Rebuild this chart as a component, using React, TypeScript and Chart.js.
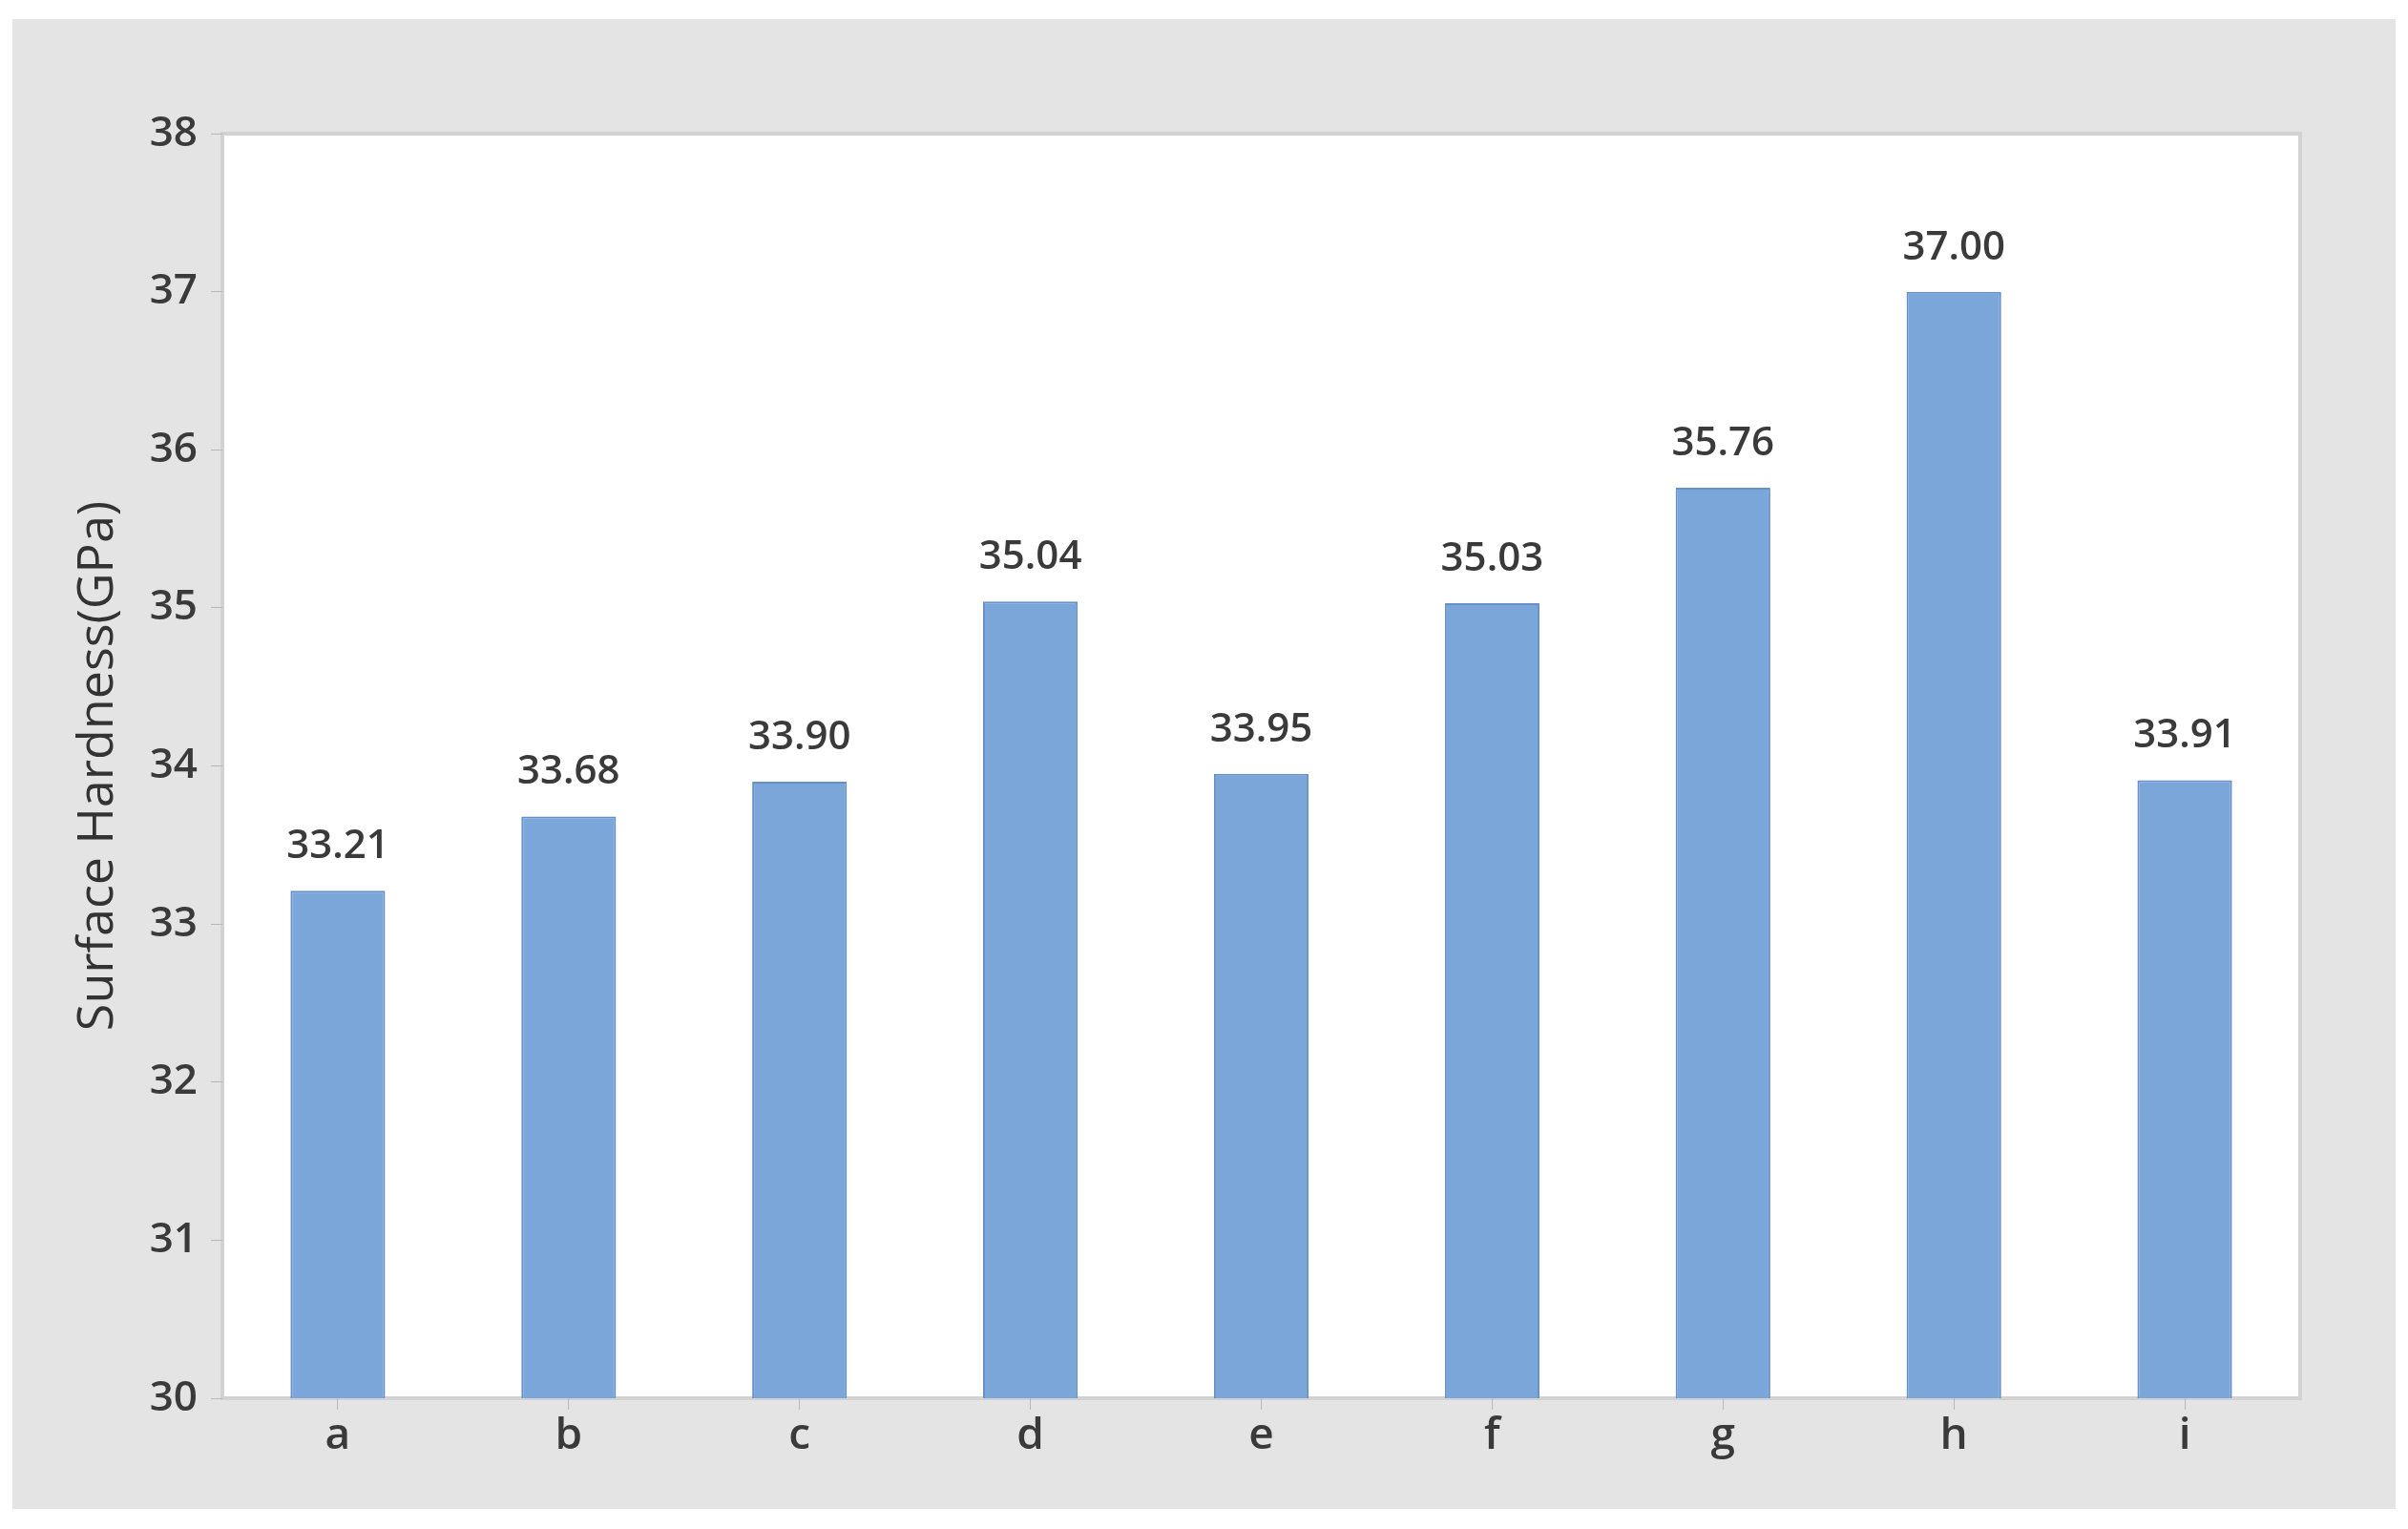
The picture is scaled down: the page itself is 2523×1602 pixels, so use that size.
import React, { useEffect, useRef } from "react";
import { Chart, registerables } from "chart.js";

Chart.register(...registerables);

const categories = ["a", "b", "c", "d", "e", "f", "g", "h", "i"];
const hardness = [33.21, 33.68, 33.9, 35.04, 33.95, 35.03, 35.76, 37.0, 33.91];
const yTitle = "Surface Hardness(GPa)";
const yMin = 30;
const yMax = 38;

const W = 2523;
const H = 1602;

const bgPlugin = {
  id: "bgPlugin",
  beforeDraw(chart: any) {
    const { ctx, chartArea } = chart;
    ctx.save();
    ctx.fillStyle = "#ffffff";
    ctx.fillRect(0, 0, W, H);
    ctx.fillStyle = "#e4e4e4";
    ctx.fillRect(13, 20, 2510 - 13, 1581 - 20);
    ctx.fillStyle = "#ffffff";
    ctx.fillRect(chartArea.left, chartArea.top, chartArea.right - chartArea.left, chartArea.bottom - chartArea.top);
    ctx.strokeStyle = "#d2d2d2";
    ctx.lineWidth = 4;
    ctx.strokeRect(chartArea.left, chartArea.top, chartArea.right - chartArea.left, chartArea.bottom - chartArea.top);
    ctx.restore();
  },
};

const labelPlugin = {
  id: "labelPlugin",
  afterDatasetsDraw(chart: any) {
    const { ctx } = chart;
    const meta = chart.getDatasetMeta(0);
    ctx.save();
    ctx.font = "600 42px 'Open Sans'";
    ctx.fillStyle = "#3a3a3a";
    ctx.textAlign = "center";
    ctx.textBaseline = "middle";
    meta.data.forEach((el: any, i: number) => {
      const v = chart.data.datasets[0].data[i] as number;
      ctx.fillText(v.toFixed(2), el.x, el.y - 46);
    });
    ctx.restore();
  },
};

export default function App() {
  const ref = useRef<HTMLCanvasElement | null>(null);
  useEffect(() => {
    if (!ref.current) return;
    const chart = new Chart(ref.current, {
      type: "bar",
      data: {
        labels: categories,
        datasets: [
          {
            data: hardness,
            backgroundColor: "#7ba6d9",
            borderColor: "#6690c6",
            borderWidth: 2,
            barPercentage: 0.41,
            categoryPercentage: 1,
          },
        ],
      },
      plugins: [bgPlugin, labelPlugin],
      options: {
        animation: false,
        responsive: false,
        devicePixelRatio: 1,
        layout: { padding: { left: 0, top: 140, right: 113, bottom: 37 } },
        plugins: { legend: { display: false }, tooltip: { enabled: false } },
        scales: {
          x: {
            grid: { display: true, drawOnChartArea: false, drawTicks: true, tickLength: 12, color: "#b8b8b8", offset: false },
            border: { display: false },
            ticks: { font: { family: "Open Sans", size: 46, weight: "600" }, color: "#3a3a3a", padding: 0 },
            afterFit: (s: any) => {
              s.height = 100;
            },
          },
          y: {
            min: yMin,
            max: yMax,
            grid: { display: true, drawOnChartArea: false, drawTicks: true, tickLength: 12, color: "#b8b8b8" },
            border: { display: false },
            ticks: { stepSize: 1, font: { family: "Open Sans", size: 44, weight: "600" }, color: "#3a3a3a", padding: 14 },
            title: {
              display: true,
              text: yTitle,
              font: { family: "Open Sans", size: 52, weight: "normal" },
              color: "#333333",
              padding: { top: 72, bottom: 0 },
            },
            afterFit: (s: any) => {
              s.width = 233;
            },
          },
        },
      },
    });
    return () => chart.destroy();
  }, []);
  return (
    <div style={{ position: "fixed", left: 0, top: 0, width: W, height: H }}>
      <canvas ref={ref} width={W} height={H} style={{ display: "block", width: W, height: H }} />
    </div>
  );
}
